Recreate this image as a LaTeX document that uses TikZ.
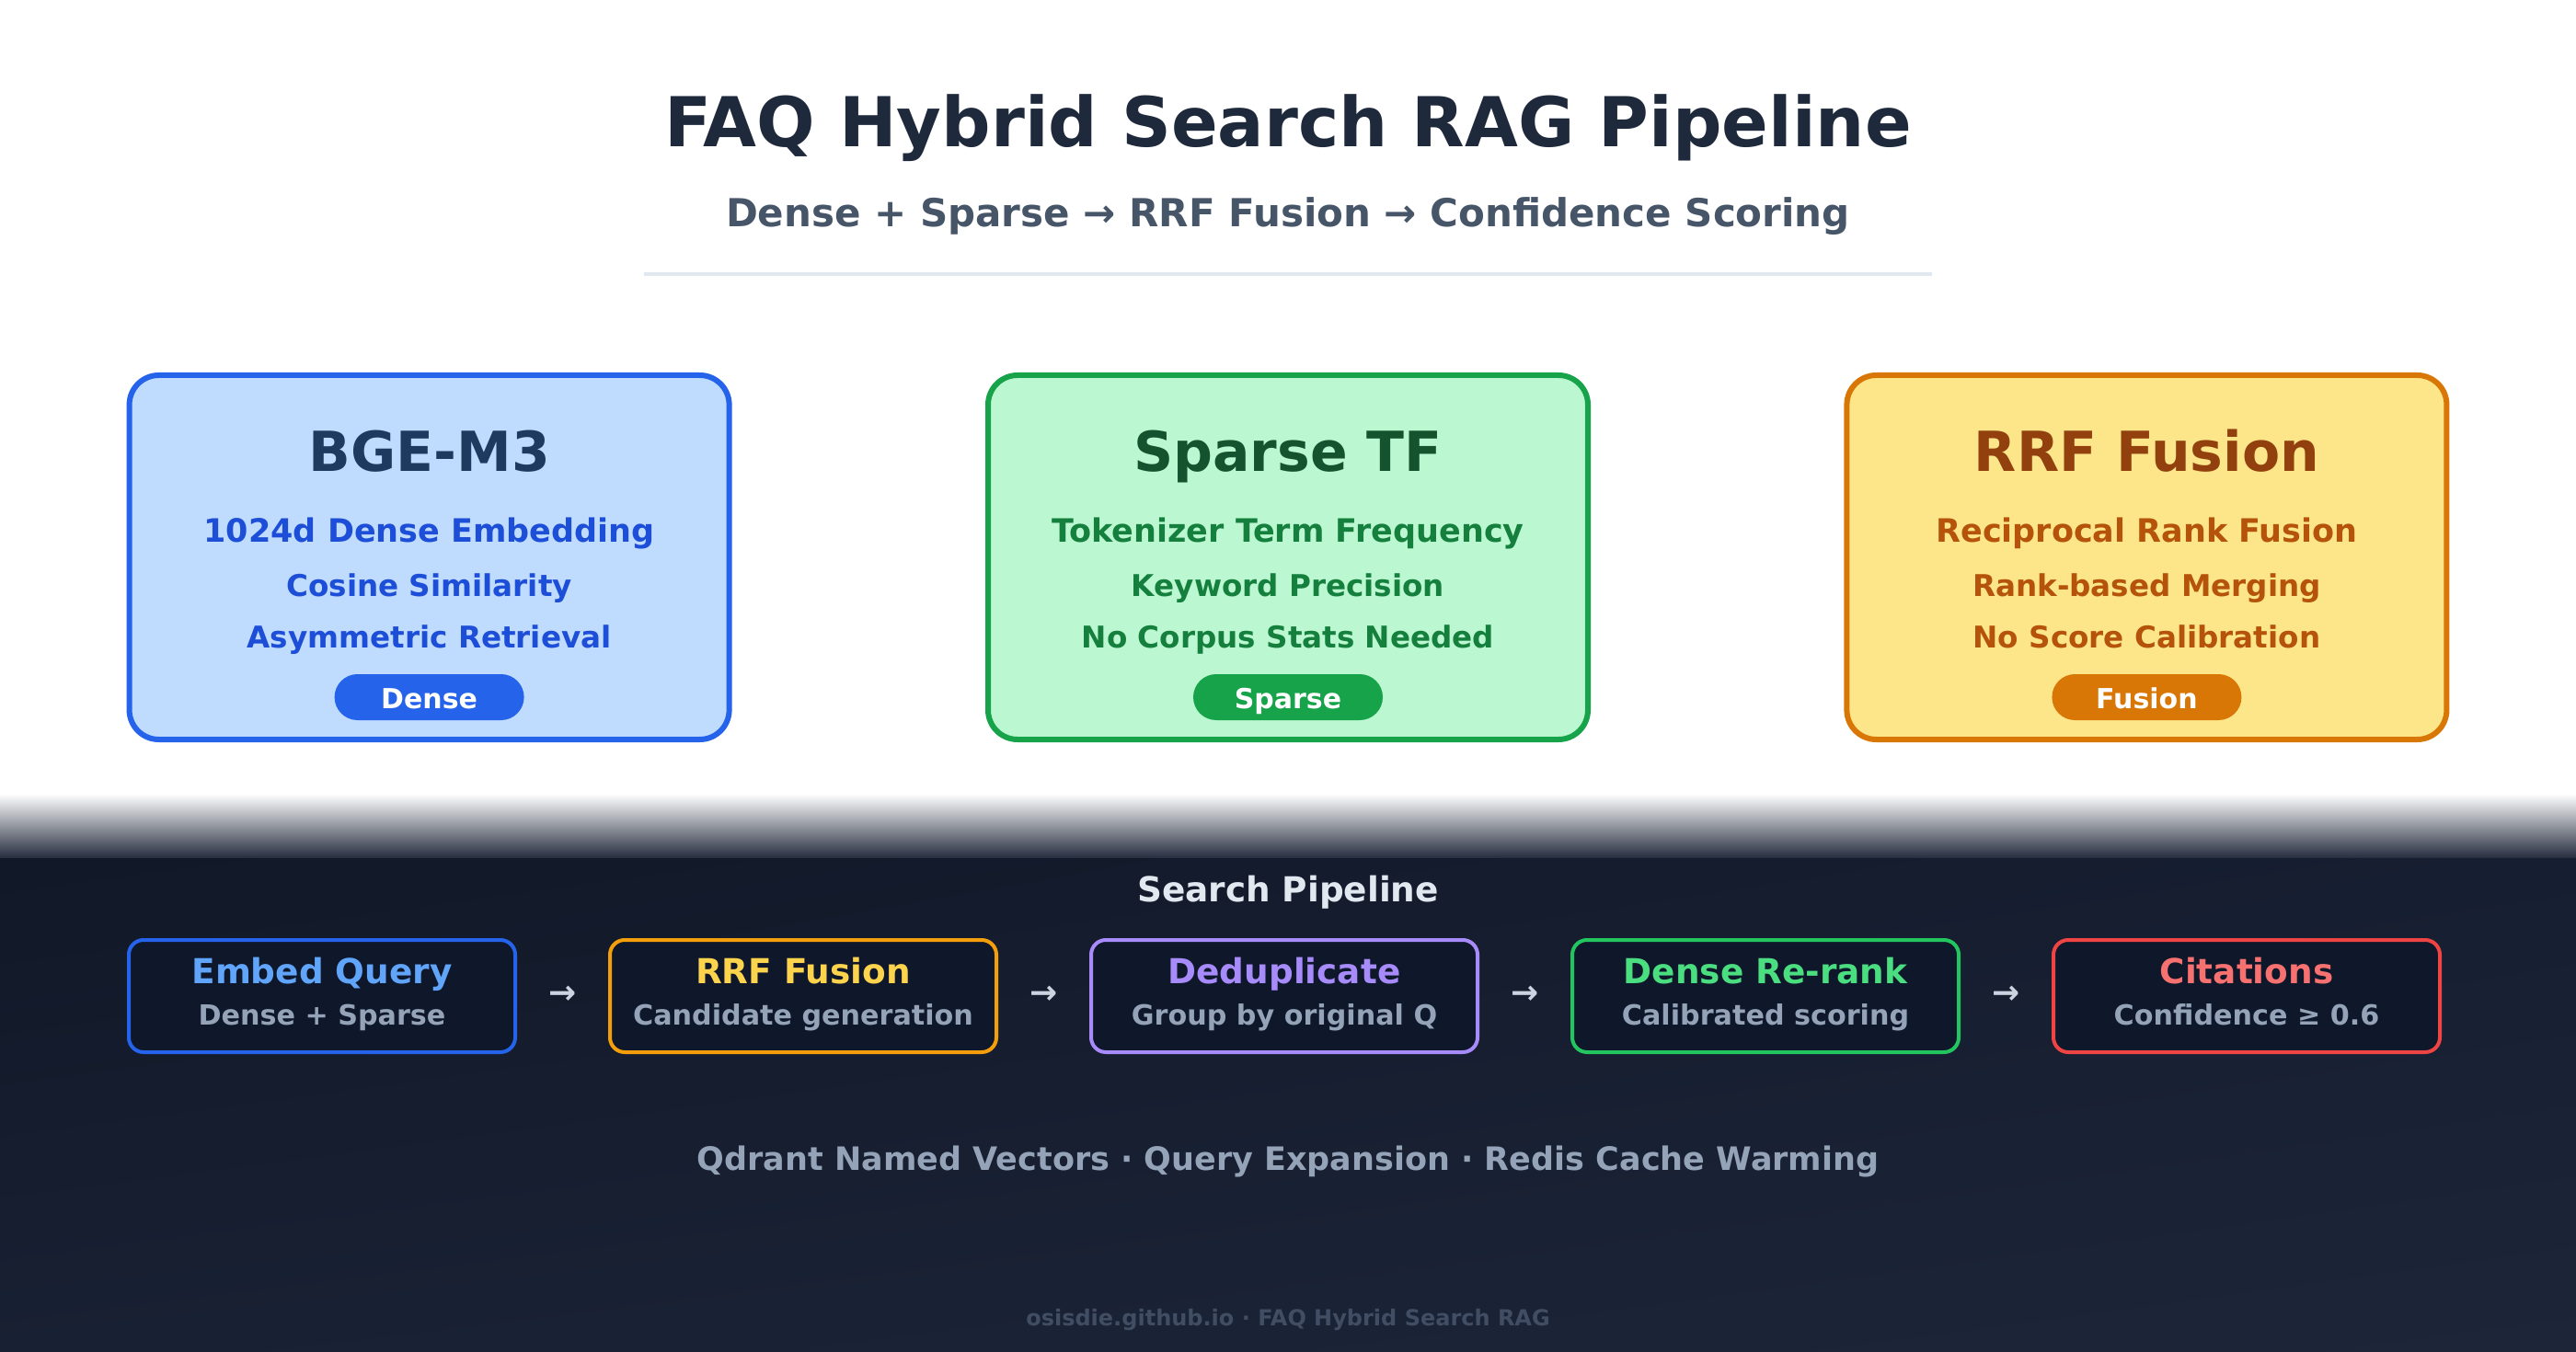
\documentclass[tikz,border=0pt]{standalone}
\usepackage{fontspec}
\setmainfont{DejaVu Sans}
\usetikzlibrary{calc,shadings}

\definecolor{titlec}{HTML}{1E293B}
\definecolor{subc}{HTML}{475569}
\definecolor{rulec}{HTML}{E2E8F0}
\definecolor{c1fill}{HTML}{BFDBFE}
\definecolor{c1bord}{HTML}{2563EB}
\definecolor{c1title}{HTML}{1E3A5F}
\definecolor{c1line}{HTML}{1D4ED8}
\definecolor{c2fill}{HTML}{BBF7D0}
\definecolor{c2bord}{HTML}{16A34A}
\definecolor{c2title}{HTML}{14532D}
\definecolor{c2line}{HTML}{15803D}
\definecolor{c3fill}{HTML}{FDE68A}
\definecolor{c3bord}{HTML}{D97706}
\definecolor{c3title}{HTML}{92400E}
\definecolor{c3line}{HTML}{B45309}
\definecolor{bgA}{HTML}{111827}
\definecolor{bgB}{HTML}{161E31}
\definecolor{bgC}{HTML}{182033}
\definecolor{bgD}{HTML}{1D2539}
\definecolor{stripB}{HTML}{262D3E}
\definecolor{boxfill}{HTML}{0F172A}
\definecolor{spc}{HTML}{E2E8F0}
\definecolor{subgray}{HTML}{94A3B8}
\definecolor{arrowc}{HTML}{CBD5E1}
\definecolor{footc}{HTML}{414D63}
\definecolor{b1}{HTML}{2563EB}
\definecolor{t1}{HTML}{60A5FA}
\definecolor{b2}{HTML}{F59E0B}
\definecolor{t2}{HTML}{FCD34D}
\definecolor{b3}{HTML}{A78BFA}
\definecolor{t3}{HTML}{A78BFA}
\definecolor{b4}{HTML}{22C55E}
\definecolor{t4}{HTML}{4ADE80}
\definecolor{b5}{HTML}{EF4444}
\definecolor{t5}{HTML}{F87171}

\tikzset{
  fsz/.style={font=\bfseries\fontsize{#1}{#1}\selectfont},
  txt/.style={anchor=base, inner sep=0pt},
  card/.style={draw, line width=3pt, rounded corners=16pt, minimum width=326pt, minimum height=198pt, inner sep=0pt},
  pill/.style={rounded corners=12.5pt, minimum width=103pt, minimum height=25pt, inner sep=0pt, text height=12.4pt, text depth=0pt, text=white},
  pbox/.style={draw, line width=2pt, fill=boxfill, rounded corners=8pt, minimum width=210pt, minimum height=61pt, inner sep=0pt},
}

\begin{document}
\begin{tikzpicture}[x=1pt,y=-1pt]
\useasboundingbox (0,0) rectangle (1400,735);
\fill[white] (0,0) rectangle (1400,735);

% header
\node[txt, fsz=37.4, text=titlec] (title) at (700,80) {FAQ Hybrid Search RAG Pipeline};
\node[txt, fsz=21, text=subc] (subtitle) at (700,123.3) {Dense + Sparse → RRF Fusion → Confidence Scoring};
\coordinate (ruleL) at (350,149);
\coordinate (ruleR) at (1050,149);
\draw[rulec, line width=2pt] (ruleL) -- (ruleR);

% cards
\foreach \n/\cx/\fc/\bc/\tc/\lc/\ttl/\la/\lb/\lcc/\pl in {
  1/233.3/c1fill/c1bord/c1title/c1line/BGE-M3/1024d Dense Embedding/Cosine Similarity/Asymmetric Retrieval/Dense,
  2/700/c2fill/c2bord/c2title/c2line/Sparse TF/Tokenizer Term Frequency/Keyword Precision/No Corpus Stats Needed/Sparse,
  3/1166.7/c3fill/c3bord/c3title/c3line/RRF Fusion/Reciprocal Rank Fusion/Rank-based Merging/No Score Calibration/Fusion}
{
  \node[card, fill=\fc, draw=\bc] (card\n) at (\cx,303) {};
  \node[txt, fsz=30, text=\tc] (card\n-title) at (\cx,256.5) {\ttl};
  \node[txt, fsz=17.5, text=\lc] (card\n-l1) at (\cx,294.5) {\la};
  \node[txt, fsz=16.3, text=\lc] (card\n-l2) at (\cx,324) {\lb};
  \node[txt, fsz=16.3, text=\lc] (card\n-l3) at (\cx,352.3) {\lcc};
  \node[pill, fill=\bc, fsz=15] (card\n-pill) at (\cx,379) {\pl};
}

% transition strip and dark panel
\shade[top color=white, bottom color=stripB] (0,431.5) rectangle (1400,466.5);
\shade[upper left=bgA, upper right=bgB, lower left=bgC, lower right=bgD] (0,466.5) rectangle (1400,735);

\node[txt, fsz=18.7, text=spc] (sptitle) at (700,490) {Search Pipeline};

\foreach \n/\x/\bc/\tc/\ttl/\sub in {
  1/175/b1/t1/Embed Query/Dense + Sparse,
  2/436.5/b2/t2/RRF Fusion/Candidate generation,
  3/698/b3/t3/Deduplicate/Group by original Q,
  4/959.5/b4/t4/Dense Re-rank/Calibrated scoring,
  5/1221/b5/t5/Citations/Confidence ≥ 0.6}
{
  \node[pbox, draw=\bc] (pb\n) at (\x,541.5) {};
  \node[txt, fsz=18.7, text=\tc] (pb\n-title) at (\x,534.7) {\ttl};
  \node[txt, fsz=15.1, text=subgray] (pb\n-sub) at (\x,557) {\sub};
}

\foreach \a/\b in {1/2,2/3,3/4,4/5}
  \node[txt, fsz=18, text=arrowc] (arr\a) at ($(pb\a.east)!0.5!(pb\b.west)+(0,4)$) {→};

\node[txt, fsz=17.5, text=subgray] (tech) at (700,636) {Qdrant Named Vectors · Query Expansion · Redis Cache Warming};
\node[txt, fsz=12, text=footc] (footer) at (700,720.8) {osisdie.github.io · FAQ Hybrid Search RAG};
\end{tikzpicture}
\end{document}
